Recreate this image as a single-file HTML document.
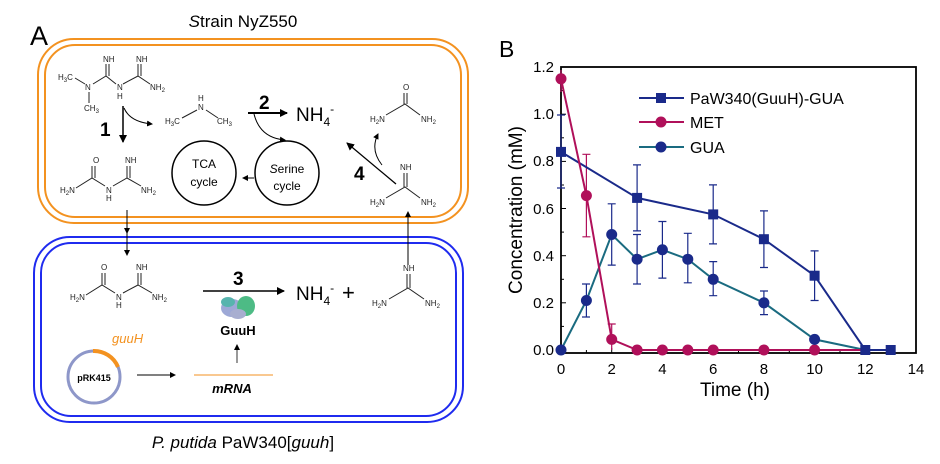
<!DOCTYPE html>
<html><head><style>
html,body{margin:0;padding:0;background:#fff;}
svg{display:block;font-family:"Liberation Sans",sans-serif;}
</style></head><body>
<svg width="940" height="464" viewBox="0 0 940 464" xmlns="http://www.w3.org/2000/svg">
<defs>
<marker id="ah" markerWidth="8" markerHeight="8" refX="7" refY="4" orient="auto" markerUnits="userSpaceOnUse"><path d="M0,0 L8,4 L0,8 z" fill="#000"/></marker>
<marker id="ahs" markerWidth="6" markerHeight="6" refX="5" refY="3" orient="auto" markerUnits="userSpaceOnUse"><path d="M0,0 L6,3 L0,6 z" fill="#000"/></marker>
</defs>
<rect width="940" height="464" fill="#fff"/>
<!-- Panel A -->
<text x="30" y="45" font-size="27">A</text>
<text x="243" y="27" font-size="17" text-anchor="middle"><tspan font-style="italic">S</tspan>train NyZ550</text>
<rect x="38" y="39" width="430" height="184" rx="36" fill="none" stroke="#f39220" stroke-width="2"/>
<rect x="45" y="45" width="416" height="172" rx="30" fill="none" stroke="#f39220" stroke-width="2"/>
<rect x="34" y="237" width="429" height="185" rx="36" fill="none" stroke="#1f2bef" stroke-width="2"/>
<rect x="41" y="243" width="415" height="173" rx="30" fill="none" stroke="#1f2bef" stroke-width="2"/>
<text x="243" y="448" font-size="17" text-anchor="middle"><tspan font-style="italic">P. putida</tspan> PaW340[<tspan font-style="italic">guuh</tspan>]</text>

<g font-size="8" fill="#222">
<text x="103" y="62">NH</text><text x="136" y="62">NH</text>
<text x="58" y="80">H<tspan font-size="6" dy="2">3</tspan><tspan dy="-2">C</tspan></text><text x="85" y="90">N</text><text x="117" y="90">N</text><text x="117" y="99">H</text><text x="150" y="90">NH<tspan font-size="6" dy="2">2</tspan></text><text x="84" y="111">CH<tspan font-size="6" dy="2">3</tspan></text>
<text x="198" y="101">H</text><text x="198" y="110">N</text><text x="165" y="124">H<tspan font-size="6" dy="2">3</tspan><tspan dy="-2">C</tspan></text><text x="217" y="124">CH<tspan font-size="6" dy="2">3</tspan></text>
<text x="93" y="163">O</text><text x="125" y="163">NH</text><text x="60" y="193">H<tspan font-size="6" dy="2">2</tspan><tspan dy="-2">N</tspan></text><text x="106" y="193">N</text><text x="106" y="201">H</text><text x="141" y="193">NH<tspan font-size="6" dy="2">2</tspan></text>
<text x="403" y="90">O</text><text x="370" y="122">H<tspan font-size="6" dy="2">2</tspan><tspan dy="-2">N</tspan></text><text x="421" y="122">NH<tspan font-size="6" dy="2">2</tspan></text>
<text x="400" y="170">NH</text><text x="370" y="205">H<tspan font-size="6" dy="2">2</tspan><tspan dy="-2">N</tspan></text><text x="421" y="205">NH<tspan font-size="6" dy="2">2</tspan></text>
<text x="101" y="270">O</text><text x="136" y="270">NH</text><text x="70" y="300">H<tspan font-size="6" dy="2">2</tspan><tspan dy="-2">N</tspan></text><text x="116" y="300">N</text><text x="116" y="308">H</text><text x="152" y="300">NH<tspan font-size="6" dy="2">2</tspan></text>
<text x="403" y="271">NH</text><text x="372" y="306">H<tspan font-size="6" dy="2">2</tspan><tspan dy="-2">N</tspan></text><text x="425" y="306">NH<tspan font-size="6" dy="2">2</tspan></text>
</g>
<g stroke="#222" stroke-width="1" fill="none">
<path d="M75,78 L85,84 M93,84 L106,76 L116,84 M106,76 L106,64 M109,76 L109,64 M123,84 L138,76 L150,84 M138,76 L138,64 M141,76 L141,64 M89,92 L89,103"/>
<path d="M182,118 L197,110 M206,110 L218,118"/>
<path d="M76,188 L92,178 L105,186 M92,178 L92,166 M95,178 L95,166 M113,186 L127,178 L141,186 M127,178 L127,166 M130,178 L130,166"/>
<path d="M386,115 L405,104 L420,115 M404,104 L404,93 M407,104 L407,93"/>
<path d="M386,198 L405,187 L420,198 M404,187 L404,173 M407,187 L407,173"/>
<path d="M86,295 L102,285 L115,293 M102,285 L102,273 M105,285 L105,273 M123,293 L138,285 L152,293 M138,285 L138,273 M141,285 L141,273"/>
<path d="M389,299 L408,288 L424,299 M407,288 L407,274 M410,288 L410,274"/>
</g>
<!-- reactions -->
<path d="M123,106 L123,142" stroke="#000" stroke-width="1.5" marker-end="url(#ah)"/>
<path d="M124,108 Q130,122 152,124" stroke="#000" fill="none" stroke-width="1" marker-end="url(#ahs)"/>
<text x="100" y="136" font-size="19" font-weight="bold">1</text>
<path d="M248,113 L287,113" stroke="#000" stroke-width="2" marker-end="url(#ah)"/>
<text x="259" y="109" font-size="19" font-weight="bold">2</text>
<text x="296" y="121" font-size="19">NH<tspan font-size="12" dy="5">4</tspan><tspan font-size="12" dy="-13">-</tspan></text>
<path d="M254,114 Q260,138 285,140" stroke="#000" fill="none" stroke-width="1" marker-end="url(#ahs)"/>
<circle cx="204" cy="173" r="32" fill="none" stroke="#000" stroke-width="1.5"/>
<circle cx="287" cy="173" r="32" fill="none" stroke="#000" stroke-width="1.5"/>
<text x="204" y="168" font-size="12" text-anchor="middle">TCA</text><text x="204" y="186" font-size="12" text-anchor="middle">cycle</text>
<text x="287" y="173" font-size="12" text-anchor="middle"><tspan font-style="italic">S</tspan>erine</text><text x="287" y="190" font-size="12" text-anchor="middle">cycle</text>
<path d="M254,178 L243,178" stroke="#000" marker-end="url(#ahs)"/>
<path d="M396,184 L347,143" stroke="#000" stroke-width="1.3" marker-end="url(#ah)"/>
<path d="M382,165 Q370,150 378,134" stroke="#000" fill="none" marker-end="url(#ahs)"/>
<text x="354" y="180" font-size="19" font-weight="bold">4</text>
<path d="M127,210 L127,233" stroke="#000" marker-end="url(#ahs)"/>
<path d="M127,233 L127,255" stroke="#000" marker-end="url(#ahs)"/>
<path d="M408,265 L408,212" stroke="#000" marker-end="url(#ahs)"/>
<path d="M203,291 L284,291" stroke="#000" stroke-width="1.5" marker-end="url(#ah)"/>
<text x="233" y="285" font-size="19" font-weight="bold">3</text>
<text x="296" y="300" font-size="19">NH<tspan font-size="12" dy="5">4</tspan><tspan font-size="12" dy="-13">-</tspan></text>
<text x="342" y="300" font-size="22">+</text>
<g opacity="0.85">
<ellipse cx="232" cy="308" rx="11" ry="9" fill="#8c9ad0"/>
<ellipse cx="246" cy="306" rx="9" ry="10" fill="#2fb070"/>
<ellipse cx="228" cy="302" rx="7" ry="5" fill="#3aa8a0"/>
<ellipse cx="238" cy="314" rx="8" ry="5" fill="#9aa0c8"/>
</g>
<text x="238" y="335" font-size="13" font-weight="bold" text-anchor="middle">GuuH</text>
<path d="M237,363 L237,345" stroke="#000" stroke-width="0.8" marker-end="url(#ahs)"/>
<line x1="194" y1="375" x2="273" y2="375" stroke="#f39220" stroke-width="1"/>
<text x="232" y="393" font-size="13" font-weight="bold" font-style="italic" text-anchor="middle">mRNA</text>
<circle cx="94" cy="377" r="26" fill="none" stroke="#8e97c9" stroke-width="3"/>
<path d="M93,351 A26,26 0 0 1 118,367" fill="none" stroke="#f39220" stroke-width="4"/>
<text x="94" y="381" font-size="9" font-weight="bold" text-anchor="middle">pRK415</text>
<text x="112" y="343" font-size="13" font-style="italic" fill="#f39220">guuH</text>
<path d="M137,375 L175,375" stroke="#000" marker-end="url(#ahs)"/>

<!-- Panel B -->
<text x="499" y="57" font-size="23">B</text>
<rect x="561" y="67" width="355" height="286" fill="none" stroke="#000" stroke-width="1.8"/>
<g stroke="#000" stroke-width="1">
<line x1="561" y1="350" x2="566" y2="350"/><line x1="561" y1="302.8" x2="566" y2="302.8"/><line x1="561" y1="255.7" x2="566" y2="255.7"/><line x1="561" y1="208.5" x2="566" y2="208.5"/><line x1="561" y1="161.4" x2="566" y2="161.4"/><line x1="561" y1="114.2" x2="566" y2="114.2"/>
<line x1="561" y1="326.4" x2="564" y2="326.4"/><line x1="561" y1="279.3" x2="564" y2="279.3"/><line x1="561" y1="232.1" x2="564" y2="232.1"/><line x1="561" y1="185" x2="564" y2="185"/><line x1="561" y1="137.8" x2="564" y2="137.8"/><line x1="561" y1="90.6" x2="564" y2="90.6"/>
<line x1="611.7" y1="353" x2="611.7" y2="348"/><line x1="662.4" y1="353" x2="662.4" y2="348"/><line x1="713.2" y1="353" x2="713.2" y2="348"/><line x1="763.9" y1="353" x2="763.9" y2="348"/><line x1="814.6" y1="353" x2="814.6" y2="348"/><line x1="865.3" y1="353" x2="865.3" y2="348"/>
<line x1="586.4" y1="353" x2="586.4" y2="350"/><line x1="637.1" y1="353" x2="637.1" y2="350"/><line x1="687.8" y1="353" x2="687.8" y2="350"/><line x1="738.5" y1="353" x2="738.5" y2="350"/><line x1="789.3" y1="353" x2="789.3" y2="350"/><line x1="840" y1="353" x2="840" y2="350"/><line x1="890.7" y1="353" x2="890.7" y2="350"/>
</g>
<g font-size="15" text-anchor="end">
<text x="554" y="355">0.0</text><text x="554" y="308">0.2</text><text x="554" y="261">0.4</text><text x="554" y="214">0.6</text><text x="554" y="166">0.8</text><text x="554" y="119">1.0</text><text x="554" y="72">1.2</text>
</g>
<g font-size="15" text-anchor="middle">
<text x="561" y="374">0</text><text x="611.7" y="374">2</text><text x="662.4" y="374">4</text><text x="713.2" y="374">6</text><text x="763.9" y="374">8</text><text x="814.6" y="374">10</text><text x="865.3" y="374">12</text><text x="916" y="374">14</text>
</g>
<text x="735" y="396" font-size="19" text-anchor="middle">Time (h)</text>
<text transform="translate(522,210) rotate(-90)" font-size="19" text-anchor="middle">Concentration (mM)</text>

<g stroke="#1a2a8a" stroke-width="1.2" fill="none">
<path d="M561,115 V188 M557,115 H565 M557,188 H565"/>
<path d="M637.1,164.9 V230.9 M633,164.9 H641 M633,230.9 H641"/>
<path d="M713.2,184.9 V243.9 M709,184.9 H717 M709,243.9 H717"/>
<path d="M763.9,210.9 V267.5 M760,210.9 H768 M760,267.5 H768"/>
<path d="M814.6,250.9 V300.5 M810.6,250.9 H818.6 M810.6,300.5 H818.6"/>
<path d="M586.4,284 V317 M582,284 H590 M582,317 H590"/>
<path d="M611.7,203.8 V265.1 M607.7,203.8 H615.7 M607.7,265.1 H615.7"/>
<path d="M637.1,234.5 V284 M633,234.5 H641 M633,284 H641"/>
<path d="M662.4,221.5 V278.1 M658.4,221.5 H666.4 M658.4,278.1 H666.4"/>
<path d="M687.8,233.3 V282.8 M683.8,233.3 H691.8 M683.8,282.8 H691.8"/>
<path d="M713.2,261.6 V295.7 M709.2,261.6 H717.2 M709.2,295.7 H717.2"/>
<path d="M763.9,291 V314.6 M760,291 H768 M760,314.6 H768"/>
</g>
<g stroke="#b0105a" stroke-width="1.2" fill="none">
<path d="M586.4,154.3 V236.8 M582.4,154.3 H590.4 M582.4,236.8 H590.4"/>
<path d="M611.7,324 V350 M607.7,324 H615.7"/>
<path d="M561,70 V92"/>
</g>
<polyline points="561,151.9 637.1,197.9 713.2,214.4 763.9,239.2 814.6,275.7 865.3,350 890.7,350" fill="none" stroke="#1a2a8a" stroke-width="2"/>
<polyline points="561,350 586.4,300.5 611.7,234.5 637.1,259.2 662.4,249.8 687.8,259.2 713.2,279.3 763.9,302.8 814.6,339.4 865.3,350" fill="none" stroke="#1a6b80" stroke-width="2"/>
<polyline points="561,78.8 586.4,195.6 611.7,339.4 637.1,350 662.4,350 687.8,350 713.2,350 763.9,350 814.6,350 865.3,350" fill="none" stroke="#b0105a" stroke-width="2"/>
<g fill="#b0105a">
<circle cx="561" cy="78.8" r="5.5"/><circle cx="586.4" cy="195.6" r="5.5"/><circle cx="611.7" cy="339.4" r="5.5"/><circle cx="637.1" cy="350" r="5.5"/><circle cx="662.4" cy="350" r="5.5"/><circle cx="687.8" cy="350" r="5.5"/><circle cx="713.2" cy="350" r="5.5"/><circle cx="763.9" cy="350" r="5.5"/><circle cx="814.6" cy="350" r="5.5"/>
</g>
<g fill="#1a2a8a">
<circle cx="561" cy="350" r="5.5"/><circle cx="586.4" cy="300.5" r="5.5"/><circle cx="611.7" cy="234.5" r="5.5"/><circle cx="637.1" cy="259.2" r="5.5"/><circle cx="662.4" cy="249.8" r="5.5"/><circle cx="687.8" cy="259.2" r="5.5"/><circle cx="713.2" cy="279.3" r="5.5"/><circle cx="763.9" cy="302.8" r="5.5"/><circle cx="814.6" cy="339.4" r="5.5"/>
<rect x="556" y="146.9" width="10" height="10"/><rect x="632.1" y="192.9" width="10" height="10"/><rect x="708.2" y="209.4" width="10" height="10"/><rect x="758.9" y="234.2" width="10" height="10"/><rect x="809.6" y="270.7" width="10" height="10"/><rect x="860.3" y="345" width="10" height="10"/><rect x="885.7" y="345" width="10" height="10"/>
</g>
<line x1="639" y1="98" x2="684" y2="98" stroke="#1a2a8a" stroke-width="2"/><rect x="656" y="93" width="10" height="10" fill="#1a2a8a"/>
<text x="690" y="104" font-size="16">PaW340(GuuH)-GUA</text>
<line x1="639" y1="122" x2="684" y2="122" stroke="#b0105a" stroke-width="2"/><circle cx="661" cy="122" r="5.5" fill="#b0105a"/>
<text x="690" y="128" font-size="16">MET</text>
<line x1="639" y1="147" x2="684" y2="147" stroke="#1a6b80" stroke-width="2"/><circle cx="661" cy="147" r="5.5" fill="#1a2a8a"/>
<text x="690" y="153" font-size="16">GUA</text>
</svg>
</body></html>
